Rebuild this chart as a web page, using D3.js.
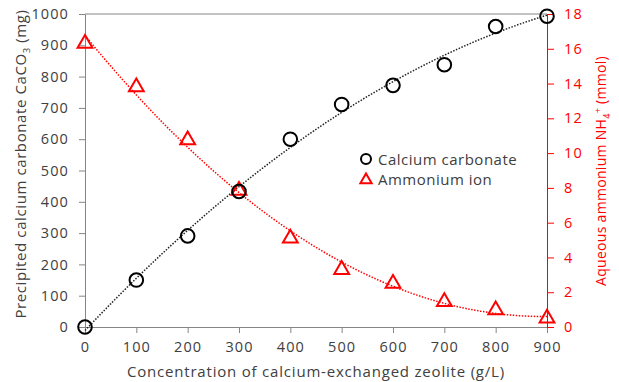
<!DOCTYPE html>
<html>
<head>
<meta charset="utf-8">
<script src="https://cdn.jsdelivr.net/npm/d3@7"></script>
<style>
  body { margin: 0; background: #fff; }
  svg text { font-family: "Open Sans", sans-serif; }
</style>
</head>
<body>
<div id="chart"></div>
<script>
const concentration = [0, 100, 200, 300, 400, 500, 600, 700, 800, 900];
const calciumCarbonate = [0, 150, 291, 433, 600, 711, 772, 838, 960, 993];
const ammonium = [16.3, 13.8, 10.75, 7.85, 5.1, 3.3, 2.5, 1.45, 0.98, 0.5];
const xTicks = [0, 100, 200, 300, 400, 500, 600, 700, 800, 900];
const leftTicks = [0, 100, 200, 300, 400, 500, 600, 700, 800, 900, 1000];
const rightTicks = [0, 2, 4, 6, 8, 10, 12, 14, 16, 18];

const width = 619, height = 382;
const red = "#ff0000", gray = "#868686", textColor = "#404040";

const svg = d3.select("#chart").append("svg")
  .attr("width", width).attr("height", height);

const x = d3.scaleLinear().domain([0, 900]).range([85, 547]);
const yL = d3.scaleLinear().domain([0, 1000]).range([327, 14]);
const yR = d3.scaleLinear().domain([0, 18]).range([327, 14]);

// least squares quadratic (like an order-2 trendline)
function quadFit(xs, ys) {
  let s = [0, 0, 0, 0, 0], t = [0, 0, 0];
  xs.forEach((xv, i) => {
    for (let k = 0; k < 5; k++) s[k] += Math.pow(xv, k);
    for (let k = 0; k < 3; k++) t[k] += ys[i] * Math.pow(xv, k);
  });
  const m = [[s[0], s[1], s[2], t[0]], [s[1], s[2], s[3], t[1]], [s[2], s[3], s[4], t[2]]];
  for (let i = 0; i < 3; i++) {
    for (let j = i + 1; j < 3; j++) {
      const f = m[j][i] / m[i][i];
      for (let k = i; k < 4; k++) m[j][k] -= f * m[i][k];
    }
  }
  const c = [0, 0, 0];
  for (let i = 2; i >= 0; i--) {
    let v = m[i][3];
    for (let k = i + 1; k < 3; k++) v -= m[i][k] * c[k];
    c[i] = v / m[i][i];
  }
  return xv => c[0] + c[1] * xv + c[2] * xv * xv;
}

// top frame line
svg.append("line")
  .attr("x1", x(0)).attr("x2", x(900))
  .attr("y1", yL(1000)).attr("y2", yL(1000))
  .attr("stroke", gray).attr("stroke-width", 1);

const tickFont = "14.5px", tickSpacing = "1.1px";

// axes
const xAxis = svg.append("g")
  .attr("transform", "translate(0," + yL(0) + ")")
  .call(d3.axisBottom(x).tickValues(xTicks).tickFormat(d3.format("d"))
    .tickSize(6).tickPadding(9).tickSizeOuter(0));
xAxis.select(".domain").attr("stroke", gray);
xAxis.selectAll(".tick line").attr("stroke", gray);
xAxis.selectAll("text").attr("fill", textColor).style("font-size", tickFont).style("letter-spacing", tickSpacing);

const leftAxis = svg.append("g")
  .attr("transform", "translate(" + x(0) + ",0)")
  .call(d3.axisLeft(yL).tickValues(leftTicks).tickFormat(d3.format("d"))
    .tickSize(6).tickPadding(10).tickSizeOuter(0));
leftAxis.select(".domain").attr("stroke", gray);
leftAxis.selectAll(".tick line").attr("stroke", gray);
leftAxis.selectAll("text").attr("fill", textColor).style("font-size", tickFont).style("letter-spacing", tickSpacing);

const rightAxis = svg.append("g")
  .attr("transform", "translate(" + x(900) + ",0)")
  .call(d3.axisRight(yR).tickValues(rightTicks).tickFormat(d3.format("d"))
    .tickSize(7).tickPadding(10).tickSizeOuter(0));
rightAxis.select(".domain").attr("stroke", red);
rightAxis.selectAll(".tick line").attr("stroke", red);
rightAxis.selectAll("text").attr("fill", red).style("font-size", tickFont).style("letter-spacing", tickSpacing);

// trendlines
const fitCa = quadFit(concentration, calciumCarbonate);
const fitNH = quadFit(concentration, ammonium);
const xs = d3.range(0, 901, 10);

svg.append("path")
  .datum(xs)
  .attr("d", d3.line().x(d => x(d)).y(d => yL(fitCa(d))))
  .attr("fill", "none").attr("stroke", "#222")
  .attr("stroke-width", 1.5).attr("stroke-dasharray", "1.5,1.5");

svg.append("path")
  .datum(xs)
  .attr("d", d3.line().x(d => x(d)).y(d => yR(fitNH(d))))
  .attr("fill", "none").attr("stroke", red)
  .attr("stroke-width", 1.5).attr("stroke-dasharray", "1.5,1.5");

// markers
const tri = d3.symbol().type(d3.symbolTriangle).size(95);

svg.append("g").selectAll("path")
  .data(concentration)
  .join("path")
  .attr("d", tri)
  .attr("transform", (d, i) => "translate(" + x(d) + "," + yR(ammonium[i]) + ")")
  .attr("fill", "none").attr("stroke", red).attr("stroke-width", 2);

svg.append("g").selectAll("circle")
  .data(concentration)
  .join("circle")
  .attr("cx", d => x(d))
  .attr("cy", (d, i) => yL(calciumCarbonate[i]))
  .attr("r", 6.8)
  .attr("fill", "none").attr("stroke", "#000").attr("stroke-width", 2);

// legend
const legend = svg.append("g").attr("transform", "translate(366,159)");
legend.append("circle").attr("r", 5).attr("fill", "none")
  .attr("stroke", "#000").attr("stroke-width", 2);
legend.append("path").attr("d", d3.symbol().type(d3.symbolTriangle).size(55))
  .attr("transform", "translate(0,21)")
  .attr("fill", "none").attr("stroke", red).attr("stroke-width", 2);
legend.append("text").attr("x", 12).attr("y", 5.5).text("Calcium carbonate")
  .attr("fill", textColor).style("font-size", "15px").style("letter-spacing", "0.5px");
legend.append("text").attr("x", 12).attr("y", 26).text("Ammonium ion")
  .attr("fill", textColor).style("font-size", "15px").style("letter-spacing", "0.5px");

// axis titles
svg.append("text")
  .attr("x", 316).attr("y", 377)
  .attr("text-anchor", "middle")
  .attr("fill", textColor).style("font-size", "15px").style("letter-spacing", "0.8px")
  .text("Concentration of calcium-exchanged zeolite (g/L)");

const leftTitle = svg.append("text")
  .attr("transform", "translate(26,164) rotate(-90)")
  .attr("text-anchor", "middle")
  .attr("fill", textColor).style("font-size", "15px").style("letter-spacing", "0.6px");
leftTitle.append("tspan").text("Precipited calcium carbonate CaCO");
leftTitle.append("tspan").text("3").attr("dy", 4).style("font-size", "9.5px");
leftTitle.append("tspan").text(" (mg)").attr("dy", -4);

const rightTitle = svg.append("text")
  .attr("transform", "translate(606,171) rotate(-90)")
  .attr("text-anchor", "middle")
  .attr("fill", red).style("font-size", "14px").style("letter-spacing", "0.3px");
rightTitle.append("tspan").text("Aqueous ammonium NH");
rightTitle.append("tspan").text("4").attr("dy", 4).style("font-size", "9px");
rightTitle.append("tspan").text("+").attr("dy", -9).style("font-size", "9px");
rightTitle.append("tspan").text(" (mmol)").attr("dy", 5);
</script>
</body>
</html>
